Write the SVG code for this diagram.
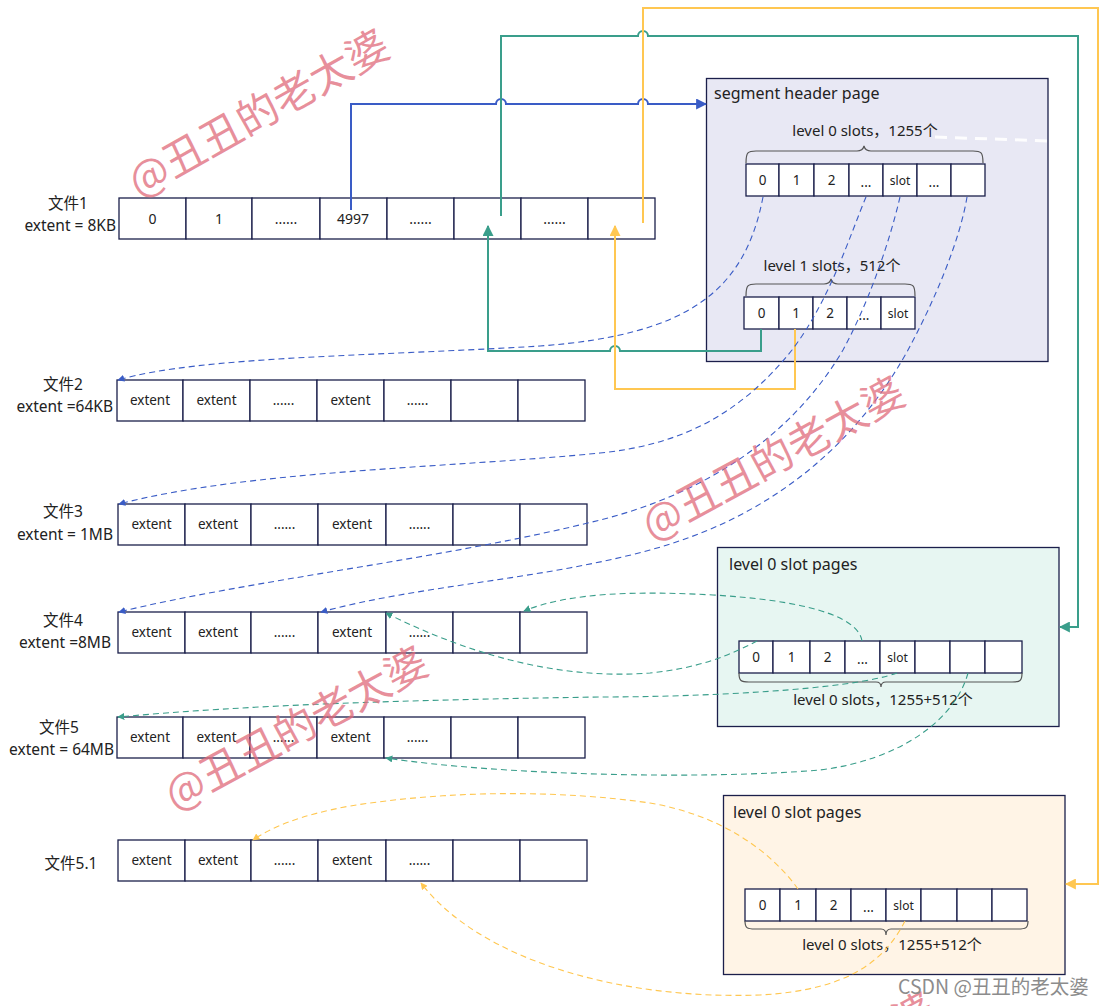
<svg xmlns="http://www.w3.org/2000/svg" width="1104" height="1006" viewBox="0 0 1104 1006">
<style>
.cell{fill:#fff;stroke:#1B1F4B;stroke-width:1.3}
.t{font-family:"Noto Sans","Noto Sans CJK SC",sans-serif;fill:#222}
.ct{font-size:13.5px;text-anchor:middle}
.c14{font-size:14px;text-anchor:middle}
.st{font-size:12px;text-anchor:middle}
.lbl{font-size:15.5px}
.mid{text-anchor:middle}
.end{text-anchor:end}
.ttl{font-size:16px}
.sl{font-size:15px;text-anchor:middle}
.brace{fill:none;stroke:#555;stroke-width:1.2}
.blue{stroke:#3A5CC6;fill:none}
.green{stroke:#3A9E8B;fill:none}
.orange{stroke:#FFC751;fill:none}
.sol{stroke-width:2}
.dash{stroke-width:1.1;stroke-dasharray:6 4}
.wm{font-family:"Noto Sans CJK SC",sans-serif;font-size:42px;fill:#E06A7A;fill-opacity:0.75}
</style>
<defs>
<marker id="aB" viewBox="0 0 10 10" refX="9" refY="5" markerWidth="11" markerHeight="11" markerUnits="userSpaceOnUse" orient="auto"><path d="M0,0 L10,5 L0,10 z" fill="#3A5CC6"/></marker>
<marker id="aG" viewBox="0 0 10 10" refX="9" refY="5" markerWidth="11" markerHeight="11" markerUnits="userSpaceOnUse" orient="auto"><path d="M0,0 L10,5 L0,10 z" fill="#3A9E8B"/></marker>
<marker id="aO" viewBox="0 0 10 10" refX="9" refY="5" markerWidth="11" markerHeight="11" markerUnits="userSpaceOnUse" orient="auto"><path d="M0,0 L10,5 L0,10 z" fill="#FFC751"/></marker>
<marker id="sB" viewBox="0 0 10 10" refX="9" refY="5" markerWidth="7" markerHeight="7" markerUnits="userSpaceOnUse" orient="auto"><path d="M0,0 L10,5 L0,10 z" fill="#3A5CC6"/></marker>
<marker id="sG" viewBox="0 0 10 10" refX="9" refY="5" markerWidth="7" markerHeight="7" markerUnits="userSpaceOnUse" orient="auto"><path d="M0,0 L10,5 L0,10 z" fill="#3A9E8B"/></marker>
<marker id="sO" viewBox="0 0 10 10" refX="9" refY="5" markerWidth="7" markerHeight="7" markerUnits="userSpaceOnUse" orient="auto"><path d="M0,0 L10,5 L0,10 z" fill="#FFC751"/></marker>
</defs>
<rect width="1104" height="1006" fill="#fff"/>

<!-- segment header page -->
<g id="segment-header-page">
<rect x="706.5" y="78.5" width="341.5" height="283" fill="#E8E8F4" stroke="#1B1F4B" stroke-width="1.3"/>
<text class="t ttl" x="714" y="99">segment header page</text>
<text class="t sl" x="865" y="136">level 0 slots，1255个</text>
<path class="brace" d="M746,163 C746,152 748,151 756,151 L857,151 C861,151 863,150 864,146 C865,150 867,151 871,151 L973,151 C981,151 983,152 983,163"/>
<g id="level0-slots">
<rect class="cell" x="746" y="164" width="33" height="32"/>
<rect class="cell" x="779" y="164" width="35" height="32"/>
<rect class="cell" x="814" y="164" width="35" height="32"/>
<rect class="cell" x="849" y="164" width="34" height="32"/>
<rect class="cell" x="883" y="164" width="34" height="32"/>
<rect class="cell" x="917" y="164" width="34" height="32"/>
<rect class="cell" x="951" y="164" width="34" height="32"/>
<text class="t ct" x="762.5" y="185">0</text>
<text class="t ct" x="796.5" y="185">1</text>
<text class="t ct" x="831.5" y="185">2</text>
<text class="t ct" x="866" y="187">...</text>
<text class="t st" x="900" y="185">slot</text>
<text class="t ct" x="934" y="187">...</text>
</g>
<text class="t sl" x="832" y="271">level 1 slots，512个</text>
<path class="brace" d="M746,296 C746,285 748,284 756,284 L824,284 C828,284 830,283 831,279 C832,283 834,284 838,284 L905,284 C913,284 915,285 915,296"/>
<g id="level1-slots">
<rect class="cell" x="744" y="297" width="35" height="32"/>
<rect class="cell" x="779" y="297" width="34" height="32"/>
<rect class="cell" x="813" y="297" width="34" height="32"/>
<rect class="cell" x="847" y="297" width="34" height="32"/>
<rect class="cell" x="881" y="297" width="34" height="32"/>
<text class="t ct" x="761.5" y="318">0</text>
<text class="t ct" x="796" y="318">1</text>
<text class="t ct" x="830" y="318">2</text>
<text class="t ct" x="864" y="320">...</text>
<text class="t st" x="898" y="318">slot</text>
</g>
</g>

<!-- level 0 slot pages (green) -->
<g id="slot-pages-green">
<rect x="717.5" y="547.5" width="341.5" height="179" fill="#E7F6F2" stroke="#1B1F4B" stroke-width="1.3"/>
<text class="t ttl" x="729" y="570">level 0 slot pages</text>
<rect class="cell" x="739" y="641" width="34" height="32"/>
<rect class="cell" x="773" y="641" width="37" height="32"/>
<rect class="cell" x="810" y="641" width="35" height="32"/>
<rect class="cell" x="845" y="641" width="35" height="32"/>
<rect class="cell" x="880" y="641" width="35" height="32"/>
<rect class="cell" x="915" y="641" width="35" height="32"/>
<rect class="cell" x="950" y="641" width="35" height="32"/>
<rect class="cell" x="985" y="641" width="37" height="32"/>
<text class="t ct" x="756" y="662">0</text>
<text class="t ct" x="791.5" y="662">1</text>
<text class="t ct" x="827.5" y="662">2</text>
<text class="t ct" x="862.5" y="664">...</text>
<text class="t st" x="897.5" y="662">slot</text>
<path class="brace" d="M739,673 C739,681 741,682 749,682 L876,682 C879,682 881,683 881,687 C881,683 883,682 886,682 L1012,682 C1020,682 1022,681 1022,673"/>
<text class="t sl" x="883" y="705">level 0 slots，1255+512个</text>
</g>

<!-- level 0 slot pages (orange) -->
<g id="slot-pages-orange">
<rect x="723.5" y="795.5" width="341.5" height="179" fill="#FFF4E6" stroke="#1B1F4B" stroke-width="1.3"/>
<text class="t ttl" x="733" y="818">level 0 slot pages</text>
<rect class="cell" x="745" y="889" width="35" height="32"/>
<rect class="cell" x="780" y="889" width="36" height="32"/>
<rect class="cell" x="816" y="889" width="35" height="32"/>
<rect class="cell" x="851" y="889" width="35" height="32"/>
<rect class="cell" x="886" y="889" width="35" height="32"/>
<rect class="cell" x="921" y="889" width="36" height="32"/>
<rect class="cell" x="957" y="889" width="35" height="32"/>
<rect class="cell" x="992" y="889" width="35" height="32"/>
<text class="t ct" x="762.5" y="910">0</text>
<text class="t ct" x="798" y="910">1</text>
<text class="t ct" x="833.5" y="910">2</text>
<text class="t ct" x="868.5" y="912">...</text>
<text class="t st" x="903.5" y="910">slot</text>
<path class="brace" d="M745,921 C745,928 747,929 755,929 L881,929 C884,929 886,930 886,935 C886,930 888,929 891,929 L1018,929 C1026,929 1028,928 1028,921"/>
<text class="t sl" x="892" y="950">level 0 slots，1255+512个</text>
</g>

<!-- file 1 -->
<g id="file1">
<text class="t lbl mid" x="68" y="209">文件1</text>
<text class="t lbl end" x="116" y="231">extent = 8KB</text>
<rect class="cell" x="119" y="198" width="67" height="41"/>
<rect class="cell" x="186" y="198" width="66" height="41"/>
<rect class="cell" x="252" y="198" width="68" height="41"/>
<rect class="cell" x="320" y="198" width="67" height="41"/>
<rect class="cell" x="387" y="198" width="67" height="41"/>
<rect class="cell" x="454" y="198" width="67" height="41"/>
<rect class="cell" x="521" y="198" width="67" height="41"/>
<rect class="cell" x="588" y="198" width="67" height="41"/>
<text class="t c14" x="152.5" y="224">0</text>
<text class="t c14" x="219" y="224">1</text>
<text class="t c14" x="286" y="224">......</text>
<text class="t c14" x="353" y="224">4997</text>
<text class="t c14" x="420.5" y="224">......</text>
<text class="t c14" x="554.5" y="224">......</text>
</g>

<!-- file 2 -->
<g id="file2">
<text class="t lbl mid" x="63" y="390">文件2</text>
<text class="t lbl end" x="113" y="412">extent =64KB</text>
<rect class="cell" x="117" y="380" width="66" height="41"/>
<rect class="cell" x="183" y="380" width="67" height="41"/>
<rect class="cell" x="250" y="380" width="67" height="41"/>
<rect class="cell" x="317" y="380" width="67" height="41"/>
<rect class="cell" x="384" y="380" width="67" height="41"/>
<rect class="cell" x="451" y="380" width="67" height="41"/>
<rect class="cell" x="518" y="380" width="67" height="41"/>
<text class="t ct" x="150" y="405">extent</text>
<text class="t ct" x="216.5" y="405">extent</text>
<text class="t ct" x="283.5" y="405">......</text>
<text class="t ct" x="350.5" y="405">extent</text>
<text class="t ct" x="417.5" y="405">......</text>
</g>

<!-- file 3 -->
<g id="file3">
<text class="t lbl mid" x="63" y="517">文件3</text>
<text class="t lbl end" x="113" y="540">extent = 1MB</text>
<rect class="cell" x="118" y="504" width="67" height="41"/>
<rect class="cell" x="185" y="504" width="66" height="41"/>
<rect class="cell" x="251" y="504" width="67" height="41"/>
<rect class="cell" x="318" y="504" width="68" height="41"/>
<rect class="cell" x="386" y="504" width="67" height="41"/>
<rect class="cell" x="453" y="504" width="67" height="41"/>
<rect class="cell" x="520" y="504" width="67" height="41"/>
<text class="t ct" x="151.5" y="529">extent</text>
<text class="t ct" x="218" y="529">extent</text>
<text class="t ct" x="284.5" y="529">......</text>
<text class="t ct" x="352" y="529">extent</text>
<text class="t ct" x="419.5" y="529">......</text>
</g>

<!-- file 4 -->
<g id="file4">
<text class="t lbl mid" x="63" y="626">文件4</text>
<text class="t lbl end" x="111" y="648">extent =8MB</text>
<rect class="cell" x="118" y="612" width="67" height="41"/>
<rect class="cell" x="185" y="612" width="66" height="41"/>
<rect class="cell" x="251" y="612" width="67" height="41"/>
<rect class="cell" x="318" y="612" width="68" height="41"/>
<rect class="cell" x="386" y="612" width="67" height="41"/>
<rect class="cell" x="453" y="612" width="67" height="41"/>
<rect class="cell" x="520" y="612" width="67" height="41"/>
<text class="t ct" x="151.5" y="637">extent</text>
<text class="t ct" x="218" y="637">extent</text>
<text class="t ct" x="284.5" y="637">......</text>
<text class="t ct" x="352" y="637">extent</text>
<text class="t ct" x="419.5" y="637">......</text>
</g>

<!-- file 5 -->
<g id="file5">
<text class="t lbl mid" x="59" y="733">文件5</text>
<text class="t lbl end" x="114" y="755">extent = 64MB</text>
<rect class="cell" x="117" y="717" width="66" height="41"/>
<rect class="cell" x="183" y="717" width="67" height="41"/>
<rect class="cell" x="250" y="717" width="67" height="41"/>
<rect class="cell" x="317" y="717" width="67" height="41"/>
<rect class="cell" x="384" y="717" width="67" height="41"/>
<rect class="cell" x="451" y="717" width="67" height="41"/>
<rect class="cell" x="518" y="717" width="67" height="41"/>
<text class="t ct" x="150" y="742">extent</text>
<text class="t ct" x="216.5" y="742">extent</text>
<text class="t ct" x="283.5" y="742">......</text>
<text class="t ct" x="350.5" y="742">extent</text>
<text class="t ct" x="417.5" y="742">......</text>
</g>

<!-- file 5.1 -->
<g id="file5-1">
<text class="t lbl mid" x="71" y="869">文件5.1</text>
<rect class="cell" x="118" y="840" width="67" height="41"/>
<rect class="cell" x="185" y="840" width="66" height="41"/>
<rect class="cell" x="251" y="840" width="67" height="41"/>
<rect class="cell" x="318" y="840" width="68" height="41"/>
<rect class="cell" x="386" y="840" width="67" height="41"/>
<rect class="cell" x="453" y="840" width="67" height="41"/>
<rect class="cell" x="520" y="840" width="67" height="41"/>
<text class="t ct" x="151.5" y="865">extent</text>
<text class="t ct" x="218" y="865">extent</text>
<text class="t ct" x="284.5" y="865">......</text>
<text class="t ct" x="352" y="865">extent</text>
<text class="t ct" x="419.5" y="865">......</text>
</g>

<!-- connectors -->
<g id="connectors">
<path class="blue sol" d="M351,210 V104 H496 A5,5 0 0 1 506,104 H638 A5,5 0 0 1 648,104 H706" marker-end="url(#aB)"/>
<path class="green sol" d="M501,216 V36 H638 A5,5 0 0 1 648,36 H1078 V627 H1060" marker-end="url(#aG)"/>
<path class="orange sol" d="M643,223 V8 H1098 V884 H1066" marker-end="url(#aO)"/>
<path class="green sol" d="M761,329 V351 H620 A5,5 0 0 0 610,351 H488 V226" marker-end="url(#aG)"/>
<path class="orange sol" d="M795,329 V389 H615 V226" marker-end="url(#aO)"/>

<path class="blue dash" d="M763,197 C745,290 690,335 540,346 C380,356 200,356 118,380" marker-end="url(#sB)"/>
<path class="blue dash" d="M866,197 C850,235 830,300 792,350 C740,415 680,445 600,453 C450,468 250,470 119,504" marker-end="url(#sB)"/>
<path class="blue dash" d="M900,197 C890,240 870,300 843,350 C790,440 700,495 600,520 C450,558 250,580 119,612" marker-end="url(#sB)"/>
<path class="blue dash" d="M967,197 C960,240 935,300 908,350 C850,455 760,520 650,550 C540,580 420,585 321,612" marker-end="url(#sB)"/>

<path class="green dash" d="M862,641 C858,615 800,600 713,595 C640,591 570,592 524,611" marker-end="url(#sG)"/>
<path class="green dash" d="M757,641 C730,655 700,668 650,673 C560,680 470,655 386,613" marker-end="url(#sG)"/>
<path class="green dash" d="M897,673 C850,690 700,697 600,697 C400,700 250,705 118,717" marker-end="url(#sG)"/>
<path class="green dash" d="M968,673 C955,720 900,760 820,770 C700,780 500,775 386,758" marker-end="url(#sG)"/>

<path class="orange dash" d="M798,889 C770,850 720,815 650,803 C560,790 450,790 350,806 C300,815 270,828 253,840" marker-end="url(#sO)"/>
<path class="orange dash" d="M905,921 C885,960 850,990 760,995 C620,1000 480,960 421,883" marker-end="url(#sO)"/>

<path d="M935,137 L1048,141" stroke="#fff" stroke-width="3" stroke-dasharray="12 8" fill="none" opacity="0.9"/>
</g>

<!-- watermarks -->
<g id="watermarks">
<text class="wm" x="139" y="198" transform="rotate(-29.5 139 198)">@丑丑的老太婆</text>
<text class="wm" x="652" y="541" transform="rotate(-28.5 652 541)">@丑丑的老太婆</text>
<text class="wm" x="175" y="811" transform="rotate(-28.5 175 811)">@丑丑的老太婆</text>
<text class="wm" x="684" y="1159" transform="rotate(-29 684 1159)">@丑丑的老太婆</text>
<text x="898" y="994" font-family="Noto Sans CJK SC,sans-serif" font-size="19.5" fill="#8c8c8c">CSDN @丑丑的老太婆</text>
</g>
</svg>
